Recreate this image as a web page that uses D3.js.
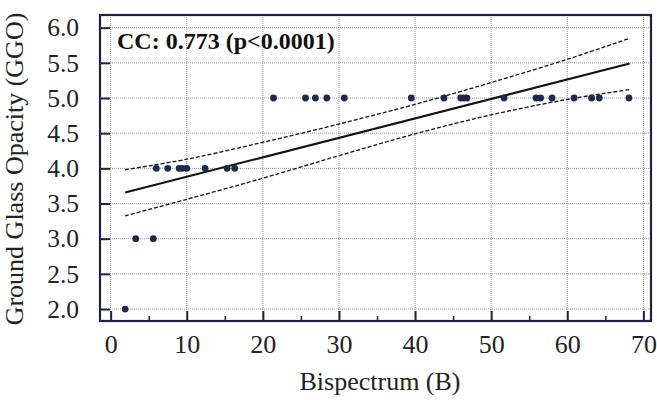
<!DOCTYPE html>
<html>
<head>
<meta charset="utf-8">
<script src="https://cdn.jsdelivr.net/npm/d3@7"></script>
<style>
  body { margin: 0; background: #fff; }
  svg text { font-family: 'Liberation Serif', serif; }
</style>
</head>
<body>
<svg id="chart" width="657" height="400" style="font-family: 'Liberation Serif', serif"></svg>
<script>
// data
var bispectrum = [1.9, 3.3, 5.6, 6.0, 7.5, 9.0, 9.4, 10.0, 12.4, 15.3, 16.3,
    21.4, 25.6, 26.9, 28.4, 30.7, 39.5, 43.8, 46.0, 46.4, 46.8, 51.7, 55.9, 56.5, 58.0, 60.9, 63.2, 64.2, 68.1];
var ggo = [2, 3, 3, 4, 4, 4, 4, 4, 4, 4, 4,
    5, 5, 5, 5, 5, 5, 5, 5, 5, 5, 5, 5, 5, 5, 5, 5, 5, 5];

// regression line + confidence band
var fitX = [1.9, 68.2];
var fitY = [3.656, 5.49];
var bandX = [1.9, 10, 20, 30, 40, 50, 60, 68.2];
var bandUpper = [3.98, 4.13, 4.37, 4.63, 4.91, 5.22, 5.55, 5.85];
var bandLower = [3.325, 3.56, 3.86, 4.18, 4.49, 4.76, 4.98, 5.12];

var xTicks = [0, 10, 20, 30, 40, 50, 60, 70];
var xMinor = [5, 15, 25, 35, 45, 55, 65];
var yTicks = [2.0, 2.5, 3.0, 3.5, 4.0, 4.5, 5.0, 5.5, 6.0];
var ccLabel = "CC: 0.773 (p<0.0001)";

var W = 657, H = 400;
var margin = { top: 15, right: 6, bottom: 79, left: 100 };
var width = W - margin.left - margin.right,
    height = H - margin.top - margin.bottom;

var navy = "#1e2148";

var svg = d3.select("#chart")
    .append("g")
    .attr("transform", "translate(" + margin.left + "," + margin.top + ")");

var x = d3.scaleLinear().domain([-1.4, 71]).range([0, width]);
var y = d3.scaleLinear().domain([1.83, 6.18]).range([height, 0]);

// grid
svg.append("g").selectAll("line")
    .data(xTicks)
    .enter().append("line")
    .attr("x1", d => x(d)).attr("x2", d => x(d))
    .attr("y1", 0).attr("y2", height)
    .attr("stroke", "#9a9a9a").attr("stroke-width", 1)
    .attr("stroke-dasharray", "1,1");
svg.append("g").selectAll("line")
    .data(yTicks)
    .enter().append("line")
    .attr("x1", 0).attr("x2", width)
    .attr("y1", d => y(d)).attr("y2", d => y(d))
    .attr("stroke", "#9a9a9a").attr("stroke-width", 1)
    .attr("stroke-dasharray", "1,1");

// confidence band
var bandLine = d3.line()
    .x(d => x(d[0]))
    .y(d => y(d[1]))
    .curve(d3.curveCatmullRom);
[bandUpper, bandLower].forEach(function (b) {
    svg.append("path")
        .datum(bandX.map((v, i) => [v, b[i]]))
        .attr("d", bandLine)
        .attr("fill", "none")
        .attr("stroke", "#111")
        .attr("stroke-width", 1.3)
        .attr("stroke-dasharray", "4,2");
});

// fit
svg.append("path")
    .datum(fitX.map((v, i) => [v, fitY[i]]))
    .attr("d", d3.line().x(d => x(d[0])).y(d => y(d[1])))
    .attr("fill", "none")
    .attr("stroke", "#111")
    .attr("stroke-width", 2);

// points
svg.append("g").selectAll("circle")
    .data(bispectrum.map((v, i) => [v, ggo[i]]))
    .enter().append("circle")
    .attr("cx", d => x(d[0]))
    .attr("cy", d => y(d[1]))
    .attr("r", 3.4)
    .attr("fill", "#1b2b4b");

// axes, ticks inward
var xAxis = svg.append("g")
    .attr("transform", "translate(0," + height + ")")
    .call(d3.axisBottom(x).tickValues(xTicks).tickSizeInner(-10).tickSizeOuter(0)
        .tickPadding(14).tickFormat(d3.format("d")));
xAxis.attr("font-family", null).attr("font-size", 26);
xAxis.select(".domain").remove();
xAxis.selectAll(".tick line").attr("stroke", navy).attr("stroke-width", 2);
xAxis.selectAll("text").attr("fill", "#222");

var xMinorAxis = svg.append("g")
    .attr("transform", "translate(0," + height + ")")
    .call(d3.axisBottom(x).tickValues(xMinor).tickSizeInner(-5).tickSizeOuter(0).tickFormat(""));
xMinorAxis.select(".domain").remove();
xMinorAxis.selectAll(".tick line").attr("stroke", navy).attr("stroke-width", 1.5);

var yAxis = svg.append("g")
    .call(d3.axisLeft(y).tickValues(yTicks).tickSizeInner(-10).tickSizeOuter(0)
        .tickPadding(21).tickFormat(d3.format(".1f")));
yAxis.attr("font-family", null).attr("font-size", 25.5);
yAxis.select(".domain").remove();
yAxis.selectAll(".tick line").attr("stroke", navy).attr("stroke-width", 2);
yAxis.selectAll("text").attr("fill", "#222");

// frame
svg.append("rect")
    .attr("x", 0).attr("y", 0)
    .attr("width", width).attr("height", height)
    .attr("fill", "none")
    .attr("stroke", navy)
    .attr("stroke-width", 2.2);

// CC label
svg.append("text")
    .attr("x", 17)
    .attr("y", 34)
    .attr("font-size", 24)
    .attr("font-weight", "bold")
    .attr("fill", "#111")
    .text(ccLabel);

// axis titles
svg.append("text")
    .attr("x", width / 2 + 4.5)
    .attr("y", height + 69)
    .attr("text-anchor", "middle")
    .attr("font-size", 26)
    .attr("fill", "#222")
    .text("Bispectrum (B)");

svg.append("text")
    .attr("transform", "rotate(-90)")
    .attr("x", -154)
    .attr("y", -77)
    .attr("text-anchor", "middle")
    .attr("font-size", 26)
    .attr("fill", "#222")
    .text("Ground Glass Opacity (GGO)");
</script>
</body>
</html>
